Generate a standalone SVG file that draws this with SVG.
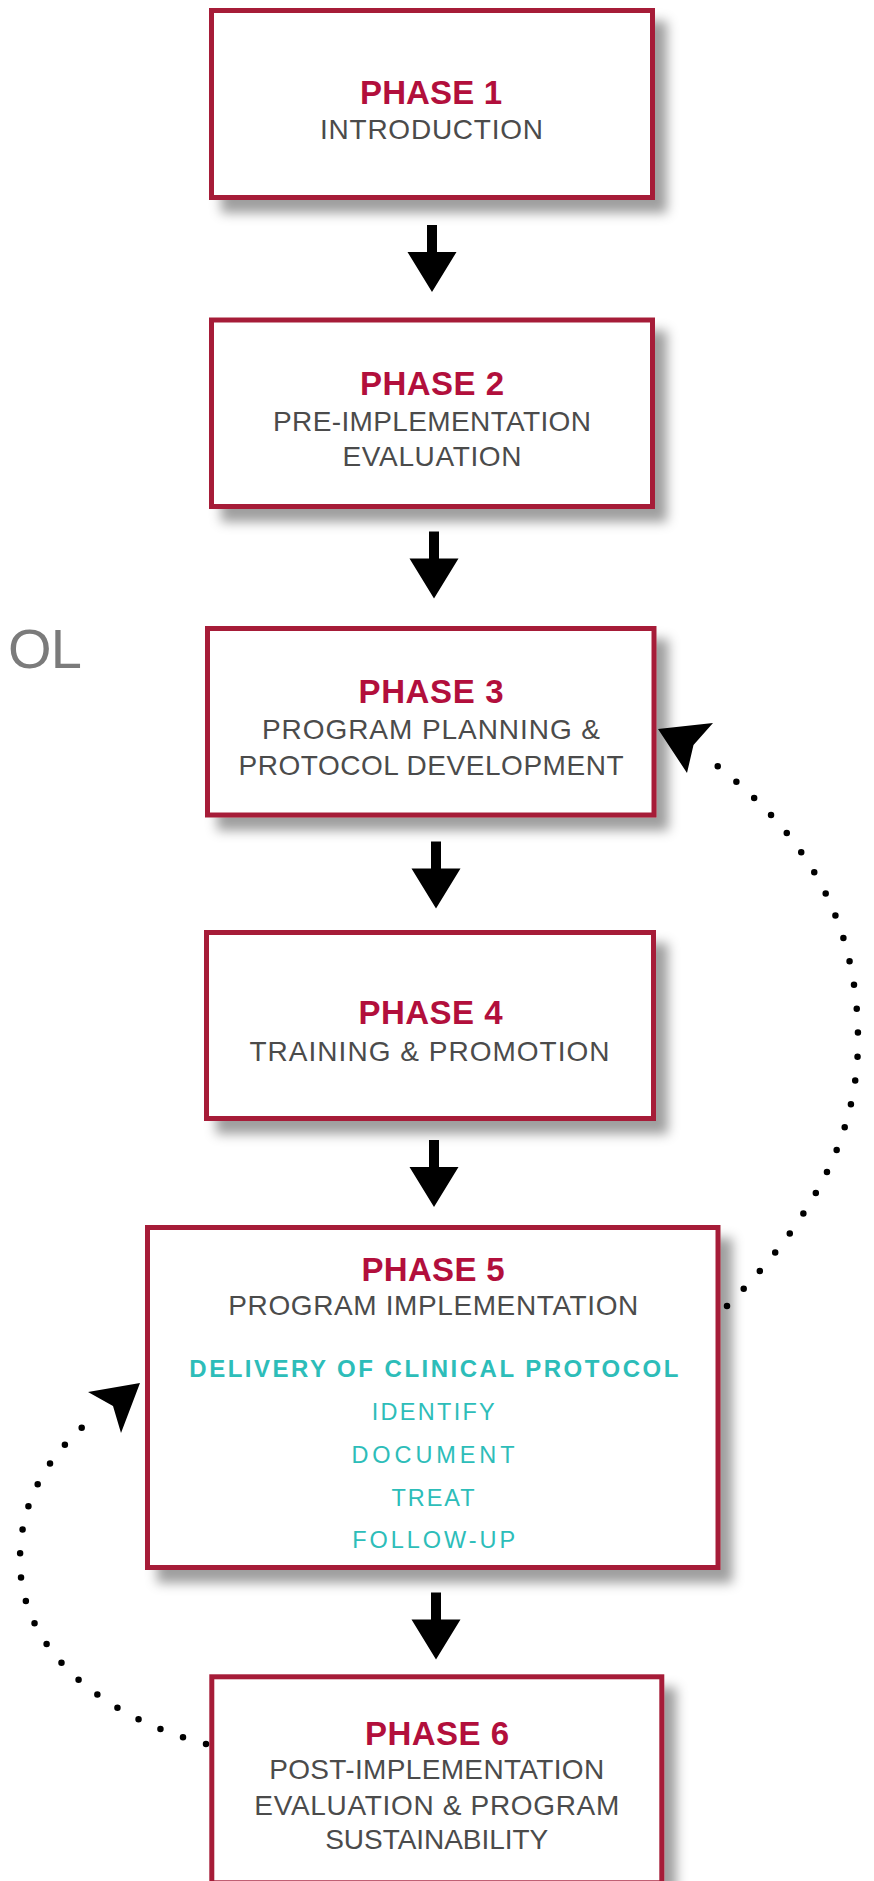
<svg xmlns="http://www.w3.org/2000/svg" width="874" height="1881" viewBox="0 0 874 1881">
<style>
.box{fill:#fff;stroke:#a61e38;stroke-width:5;filter:url(#sh)}
.ti{font-family:"Liberation Sans",Arial,sans-serif;font-weight:bold;font-size:33px;fill:#b20f3c;text-anchor:middle}
.st{font-family:"Liberation Sans",Arial,sans-serif;font-size:28px;fill:#4b4b4b;text-anchor:middle}
.tb{font-family:"Liberation Sans",Arial,sans-serif;font-weight:bold;font-size:24px;fill:#2dbdb9;text-anchor:middle}
.tr{font-family:"Liberation Sans",Arial,sans-serif;font-size:23.5px;fill:#2dbdb9;text-anchor:middle}
.dot{fill:none;stroke:#000;stroke-width:6.5;stroke-linecap:round;stroke-dasharray:0 24}
</style>
<defs>
<filter id="sh" x="-10%" y="-10%" width="135%" height="145%">
<feDropShadow dx="12" dy="13" stdDeviation="6" flood-color="#000" flood-opacity="0.38"/>
</filter>
<path id="darr" d="M-5,0 H5 V27 H24.5 L0,67 L-24.5,27 H-5 Z" fill="#000"/>
</defs>
<rect width="874" height="1881" fill="#fff"/>
<text x="8" y="668" font-family="Liberation Sans, Arial, sans-serif" font-size="56" fill="#7b7b7b" textLength="74">OL</text>

<g id="phase1">
<rect class="box" x="211.5" y="10.5" width="441" height="187"/>
<text class="ti" x="431" y="104" textLength="142">PHASE 1</text>
<text class="st" x="431.5" y="139.3" textLength="223">INTRODUCTION</text>
</g>
<g id="phase2">
<rect class="box" x="211.5" y="320" width="441" height="186.5"/>
<text class="ti" x="432" y="395" textLength="144">PHASE 2</text>
<text class="st" x="432" y="430.7" textLength="318">PRE-IMPLEMENTATION</text>
<text class="st" x="432" y="465.7" textLength="179">EVALUATION</text>
</g>
<g id="phase3">
<rect class="box" x="207.5" y="628.5" width="446.5" height="186.5"/>
<text class="ti" x="431" y="703.3" textLength="145">PHASE 3</text>
<text class="st" x="431" y="739" textLength="338">PROGRAM PLANNING &amp;</text>
<text class="st" x="431" y="775" textLength="385">PROTOCOL DEVELOPMENT</text>
</g>
<g id="phase4">
<rect class="box" x="206.5" y="932.5" width="447" height="186"/>
<text class="ti" x="430.5" y="1024" textLength="144">PHASE 4</text>
<text class="st" x="429.5" y="1060.7" textLength="360">TRAINING &amp; PROMOTION</text>
</g>
<g id="phase5">
<rect class="box" x="147.5" y="1227.5" width="570.5" height="340"/>
<text class="ti" x="433" y="1281" textLength="143">PHASE 5</text>
<text class="st" x="433.3" y="1315" textLength="410">PROGRAM IMPLEMENTATION</text>
<text class="tb" x="433.8" y="1377.3" textLength="489">DELIVERY OF CLINICAL PROTOCOL</text>
<text class="tr" x="433.3" y="1420" textLength="123">IDENTIFY</text>
<text class="tr" x="433" y="1462.7" textLength="163">DOCUMENT</text>
<text class="tr" x="433" y="1505.7" textLength="83">TREAT</text>
<text class="tr" x="433.7" y="1547.7" textLength="163">FOLLOW-UP</text>
</g>
<g id="phase6">
<rect class="box" x="211.8" y="1676.8" width="450" height="206"/>
<text class="ti" x="437" y="1745" textLength="144">PHASE 6</text>
<text class="st" x="436.7" y="1779.3" textLength="335">POST-IMPLEMENTATION</text>
<text class="st" x="436.8" y="1815" textLength="365">EVALUATION &amp; PROGRAM</text>
<text class="st" x="436.7" y="1849.3" textLength="223">SUSTAINABILITY</text>
</g>

<g id="connectors">
<use href="#darr" x="432" y="225"/>
<use href="#darr" x="434" y="531.5"/>
<use href="#darr" x="436" y="841.5"/>
<use href="#darr" x="434" y="1140"/>
<use href="#darr" x="436" y="1592.5"/>
<path class="dot" d="M727,1306 C818,1215 858,1130 858,1040 C858,890 775,809 703,755"/>
<polygon points="658,729 713,723 693.5,745 687,773" fill="#000"/>
<path class="dot" d="M206,1744 C119,1722 20,1660 20,1560 C20,1500 48,1455 94,1417"/>
<polygon points="140,1383 121,1433 113,1406 88,1392" fill="#000"/>
</g>
</svg>
